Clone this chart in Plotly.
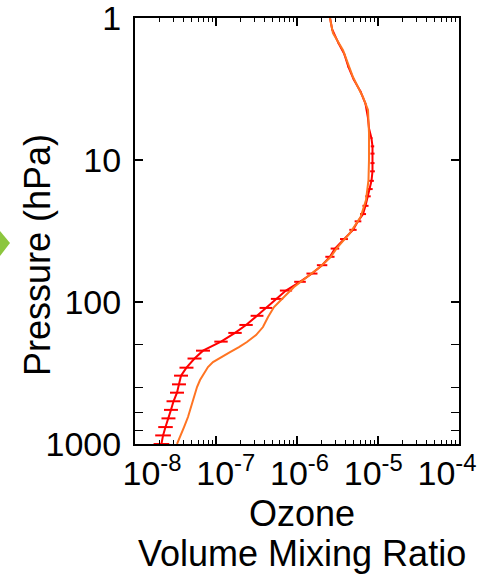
import plotly.graph_objects as go

# ---- data ----
# Retrieved ozone profile (red, with error bars)
red_pressure = [1000, 870, 760, 660, 575, 500, 435, 380, 330, 290, 250, 220, 190, 165, 145,
                125, 110, 95, 83, 72, 63, 55, 48, 42, 36, 31, 27, 24, 21, 18, 16, 14, 12,
                10.5, 9, 8, 7, 6, 5, 4, 3.3, 2.7, 2.2, 1.8, 1.5, 1.2, 1.0]
red_vmr = [2.12e-8, 2.22e-8, 2.38e-8, 2.59e-8, 2.78e-8, 2.99e-8, 3.30e-8, 3.49e-8, 3.70e-8,
           4.32e-8, 5.43e-8, 6.91e-8, 1.153e-7, 1.717e-7, 2.35e-7, 3.21e-7, 4.14e-7, 5.66e-7,
           7.31e-7, 1.089e-6, 1.53e-6, 2.04e-6, 2.55e-6, 2.94e-6, 3.80e-6, 4.91e-6, 5.66e-6,
           6.53e-6, 7.01e-6, 7.53e-6, 7.96e-6, 8.31e-6, 8.55e-6, 8.55e-6, 8.55e-6, 8.55e-6,
           8.30e-6, 7.75e-6, 7.50e-6, 7.00e-6, 6.10e-6, 5.00e-6, 4.30e-6, 3.85e-6, 3.25e-6,
           2.72e-6, 2.56e-6]
red_rel_err = [0.25, 0.25, 0.23, 0.22, 0.22, 0.22, 0.22, 0.22, 0.22, 0.22, 0.22, 0.22, 0.21,
               0.21, 0.21, 0.20, 0.20, 0.19, 0.19, 0.18, 0.17, 0.16, 0.14, 0.13, 0.12, 0.11,
               0.10, 0.09, 0.09, 0.08, 0.08, 0.07, 0.07, 0.06, 0.06, 0.05, 0.03, 0.02, 0.02,
               0.02, 0.02, 0.02, 0.02, 0.02, 0.02, 0.02, 0.02]

# A priori / reference ozone profile (orange)
orange_pressure = [1000, 878.6, 759.2, 645.5, 548.8, 466.7, 396.8, 354.2, 316.2, 286.9, 264.6,
                   244.0, 225.0, 207.5, 191.2, 170.8, 150.0, 127.5, 108.4, 92.2, 78.4, 66.7,
                   56.7, 48.2, 41.7, 32.7, 25.2, 19.13, 13.83, 10.0, 6.45, 4.44, 3.60, 2.60,
                   1.68, 1.275, 1.0]
orange_vmr = [3.30e-8, 3.59e-8, 4.03e-8, 4.51e-8, 4.91e-8, 5.35e-8, 5.83e-8, 6.35e-8, 7.11e-8,
              7.96e-8, 9.18e-8, 1.153e-7, 1.49e-7, 1.92e-7, 2.41e-7, 3.12e-7, 3.80e-7, 4.39e-7,
              5.20e-7, 6.91e-7, 9.18e-7, 1.33e-6, 1.92e-6, 2.60e-6, 3.10e-6, 4.50e-6, 6.10e-6,
              7.11e-6, 7.63e-6, 7.74e-6, 7.74e-6, 7.53e-6, 6.53e-6, 4.91e-6, 3.70e-6, 2.78e-6,
              2.55e-6]

x_tickvals = [1e-8, 1e-7, 1e-6, 1e-5, 1e-4]
x_ticktext = ["10<sup>-8</sup>", "10<sup>-7</sup>", "10<sup>-6</sup>", "10<sup>-5</sup>", "10<sup>-4</sup>"]
y_tickvals = [1, 10, 100, 1000]
y_ticktext = ["1", "10", "100", "1000"]

FONT = "Liberation Sans, Arial, sans-serif"
W, H = 489, 574
L, R, T, B = 135, 30, 18, 130
PW, PH = W - L - R, H - T - B


def px_to_paper(px, py):
    return (px - L) / PW, (H - B - py) / PH


err_plus = [v * e for v, e in zip(red_vmr, red_rel_err)]
err_minus = [v * e / (1 + e) for v, e in zip(red_vmr, red_rel_err)]

fig = go.Figure()
fig.add_trace(go.Scatter(
    x=red_vmr, y=red_pressure, mode="lines",
    line=dict(color="#FF0000", width=2),
    error_x=dict(type="data", symmetric=False, array=err_plus, arrayminus=err_minus,
                 color="#FF0000", thickness=2, width=0),
    showlegend=False, hoverinfo="skip"))
fig.add_trace(go.Scatter(
    x=orange_vmr, y=orange_pressure, mode="lines",
    line=dict(color="#FF7422", width=2),
    showlegend=False, hoverinfo="skip"))
# invisible helper trace so the label-only axis (x2) is drawn
fig.add_trace(go.Scatter(
    x=[x_tickvals[0]], y=[y_tickvals[-1]], xaxis="x2", yaxis="y", mode="markers",
    marker=dict(opacity=0), showlegend=False, hoverinfo="skip"))

axis_common = dict(
    type="log", showgrid=False, zeroline=False, automargin=False,
    showline=True, linecolor="black", linewidth=2, mirror="allticks",
    ticks="inside", ticklen=8, tickwidth=1.5, tickcolor="black",
    minor=dict(ticks="inside", ticklen=4, tickwidth=1, tickcolor="black", showgrid=False),
)

fig.update_layout(
    width=W, height=H,
    margin=dict(l=L, r=R, t=T, b=B, pad=0, autoexpand=False),
    paper_bgcolor="white", plot_bgcolor="white",
    font=dict(family=FONT, color="black", size=34),
    xaxis=dict(range=[-8, -4], dtick=1, showticklabels=False, **axis_common),
    xaxis2=dict(type="log", overlaying="x", anchor="y", side="bottom",
                range=[-8.2305, -3.837], tickmode="array", tickvals=x_tickvals,
                ticktext=x_ticktext, ticks="", showline=False, showgrid=False,
                zeroline=False, automargin=False,
                tickfont=dict(size=34, family=FONT, color="black"),
                ticklabelstandoff=6, ticklabeloverflow="allow"),
    yaxis=dict(range=[3, -0.001], tickmode="array", tickvals=y_tickvals, ticktext=y_ticktext,
               tickfont=dict(size=34, family=FONT, color="black"), ticklabelstandoff=5,
               ticklabeloverflow="allow", **axis_common),
)

# axis titles as text annotations
ax, ay = px_to_paper(38, 255)
fig.add_annotation(text="Pressure (hPa)", x=ax, y=ay, xref="paper", yref="paper",
                   textangle=-90, showarrow=False, xanchor="center", yanchor="middle",
                   font=dict(size=36, family=FONT, color="black"))
ax, ay = px_to_paper(302, 513)
fig.add_annotation(text="Ozone", x=ax, y=ay, xref="paper", yref="paper",
                   showarrow=False, xanchor="center", yanchor="middle",
                   font=dict(size=36, family=FONT, color="black"))
ax, ay = px_to_paper(302, 553)
fig.add_annotation(text="Volume Mixing Ratio", x=ax, y=ay, xref="paper", yref="paper",
                   showarrow=False, xanchor="center", yanchor="middle",
                   font=dict(size=36, family=FONT, color="black"))

# green arrow tip at the left edge (slide decoration)
p0 = px_to_paper(0, 231)
p1 = px_to_paper(10, 243)
p2 = px_to_paper(0, 256)
fig.add_shape(type="path", xref="paper", yref="paper",
              path=f"M {p0[0]},{p0[1]} L {p1[0]},{p1[1]} L {p2[0]},{p2[1]} Z",
              fillcolor="#8CC63E", line=dict(width=0), layer="above")

fig.write_html("out.html")
